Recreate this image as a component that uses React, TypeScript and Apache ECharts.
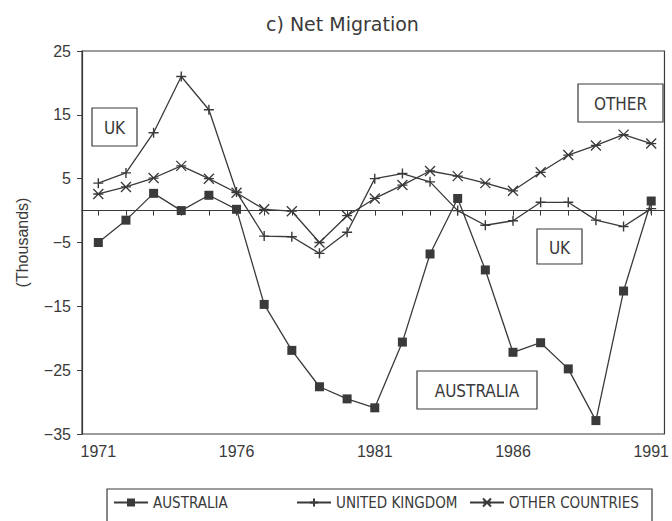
import React, { useEffect, useRef } from "react";
import * as echarts from "echarts";

const years = [1971, 1972, 1973, 1974, 1975, 1976, 1977, 1978, 1979, 1980, 1981, 1982, 1983, 1984, 1985, 1986, 1987, 1988, 1989, 1990, 1991];
const australia = [-5.0, -1.5, 2.7, 0.0, 2.4, 0.2, -14.7, -21.9, -27.6, -29.5, -30.9, -20.6, -6.8, 1.9, -9.3, -22.2, -20.7, -24.8, -32.9, -12.6, 1.5];
const unitedKingdom = [4.3, 5.9, 12.2, 21.0, 15.8, 2.9, -4.0, -4.1, -6.7, -3.4, 5.0, 5.8, 4.5, 0.0, -2.3, -1.6, 1.3, 1.3, -1.5, -2.5, 0.3];
const otherCountries = [2.6, 3.7, 5.1, 7.0, 5.0, 2.8, 0.2, -0.1, -5.0, -0.8, 1.9, 4.0, 6.2, 5.4, 4.3, 3.1, 6.0, 8.7, 10.2, 11.9, 10.5];
const yTickValues = [-35, -25, -15, -5, 5, 15, 25];
const xLabelYears = [1971, 1976, 1981, 1986, 1991];
const seriesNames = ["AUSTRALIA", "UNITED KINGDOM", "OTHER COUNTRIES"];

const INK = "#3a3a3a";
const SANS = '"Liberation Sans", Arial, sans-serif';
const NARROW = '"Liberation Sans Narrow", "DejaVu Sans Condensed", "Liberation Sans", sans-serif';

const pairs = (vals: number[]) => years.map((y, i) => [y, vals[i]]);

function boxLabel(text: string, x: number, y: number, w: number, h: number) {
  return {
    type: "group",
    children: [
      { type: "rect", shape: { x, y, width: w, height: h }, style: { fill: "#fff", stroke: INK, lineWidth: 1.2 } },
      {
        type: "text",
        x: x + w / 2,
        y: y + h / 2 + 1,
        style: { text, fill: INK, font: `17px ${NARROW}`, align: "center", verticalAlign: "middle" },
      },
    ],
  };
}

export default function App() {
  const ref = useRef<HTMLDivElement>(null);
  useEffect(() => {
    if (!ref.current) return;
    const chart = echarts.init(ref.current, null, { renderer: "svg" });
    const lineCommon = {
      type: "line",
      showAllSymbol: true,
      lineStyle: { color: INK, width: 1.3 },
      z: 3,
    };
    const legendCommon = {
      orient: "horizontal",
      top: 495,
      padding: 0,
      itemWidth: 34,
      itemHeight: 10,
      textStyle: { color: INK, fontSize: 15, fontFamily: NARROW },
    };
    chart.setOption({
      animation: false,
      backgroundColor: "#ffffff",
      title: {
        text: "c) Net Migration",
        left: 261,
        top: 9,
        textStyle: { fontSize: 19, fontWeight: "normal", color: INK, fontFamily: '"DejaVu Sans", sans-serif' },
      },
      grid: {
        left: 82,
        right: 6,
        top: 51,
        bottom: 87,
        show: true,
        borderColor: INK,
        borderWidth: 1.2,
        backgroundColor: "transparent",
      },
      xAxis: {
        type: "value",
        min: 1970.41,
        max: 1991.48,
        axisLine: { show: true, lineStyle: { color: INK, width: 1.2 } },
        axisTick: { show: true, customValues: years, length: 5, lineStyle: { color: INK } },
        axisLabel: {
          customValues: xLabelYears,
          formatter: (v: number) => String(v),
          color: INK,
          fontSize: 16,
          fontFamily: SANS,
          margin: 9,
        },
        splitLine: { show: false },
      },
      yAxis: {
        type: "value",
        min: -35,
        max: 25,
        name: "(Thousands)",
        nameLocation: "middle",
        nameGap: 52,
        nameTextStyle: { color: INK, fontSize: 16, fontFamily: SANS },
        axisLine: { show: true, lineStyle: { color: INK, width: 1.2 } },
        axisTick: { show: true, customValues: yTickValues, length: 5, lineStyle: { color: INK } },
        axisLabel: {
          customValues: yTickValues,
          formatter: (v: number) => String(v).replace("-", "\u2212"),
          color: INK,
          fontSize: 16,
          fontFamily: SANS,
          margin: 11,
        },
        splitLine: { show: false },
      },
      legend: [
        { ...legendCommon, left: 113, data: [seriesNames[0]] },
        { ...legendCommon, left: 296, data: [seriesNames[1]] },
        { ...legendCommon, left: 469, data: [seriesNames[2]] },
      ],
      series: [
        {
          ...lineCommon,
          name: seriesNames[0],
          data: pairs(australia),
          symbol: "rect",
          symbolSize: 9,
          itemStyle: { color: INK, borderColor: INK, borderWidth: 0 },
          markLine: {
            silent: true,
            symbol: ["none", "none"],
            label: { show: false },
            lineStyle: { color: INK, type: "solid", width: 1.2 },
            data: [{ yAxis: 0 }],
          },
        },
        {
          ...lineCommon,
          name: seriesNames[1],
          data: pairs(unitedKingdom),
          symbol: "path://M5,0L5,10M0,5L10,5",
          symbolSize: 10,
          itemStyle: { color: INK, borderColor: INK, borderWidth: 1.4 },
        },
        {
          ...lineCommon,
          name: seriesNames[2],
          data: pairs(otherCountries),
          symbol: "path://M0,0L10,10M10,0L0,10M0,5L10,5",
          symbolSize: 10,
          itemStyle: { color: INK, borderColor: INK, borderWidth: 1.3 },
        },
      ],
      graphic: [
        {
          type: "rect",
          shape: { x: 107, y: 489, width: 545, height: 40 },
          style: { fill: "none", stroke: INK, lineWidth: 1.2 },
          z: -1,
        },
        boxLabel("UK", 92, 108, 45, 38),
        boxLabel("OTHER", 578, 84, 85, 38),
        boxLabel("UK", 537, 229, 45, 35),
        boxLabel("AUSTRALIA", 417, 371, 120, 38),
      ],
    });
    return () => chart.dispose();
  }, []);
  return (
    <div
      ref={ref}
      style={{ position: "fixed", left: 0, top: 0, width: 672, height: 521, background: "#fff" }}
    />
  );
}
